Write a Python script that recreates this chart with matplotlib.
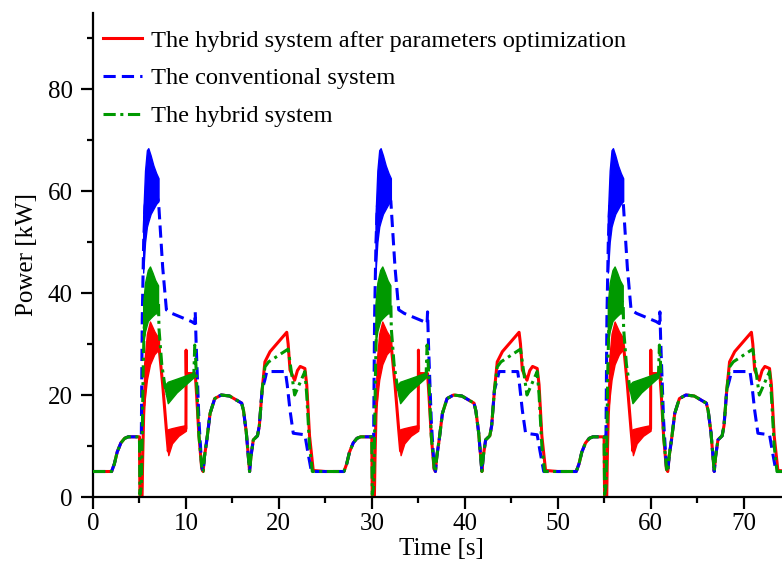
import matplotlib
matplotlib.use("Agg")
import matplotlib.pyplot as plt
from matplotlib.ticker import MultipleLocator

plt.rcParams["font.family"] = ["Liberation Serif", "DejaVu Serif"]

# ---- data (one 25 s drive cycle, repeated three times) ----
cycle_starts = [0, 25, 50]

# shared start of each cycle (all three systems coincide)
start_t = [0.0, 2.0, 2.3, 2.6, 3.0, 3.4, 3.8, 5.0]
start_p = [5.0, 5.0, 6.5, 8.8, 10.6, 11.5, 11.8, 11.8]

# shared middle part (after the first peak, before the second hump)
mid_t = [11.85, 12.0, 12.25, 12.6, 13.1, 13.8, 14.7, 16.0, 16.2, 16.5, 16.85,
         17.0, 17.25, 17.7, 17.9, 18.2]
mid_p = [5.0, 8.0, 11.2, 16.4, 19.3, 20.0, 19.8, 18.4, 16.9, 12.6, 5.0,
         8.0, 11.2, 12.0, 14.0, 21.0]

# hybrid system after parameters optimization (red)
red_a_t = [5.05, 5.28, 5.35, 5.45, 5.6, 5.8, 6.1, 6.6, 7.1, 7.5, 7.9, 8.1, 8.3,
           9.2, 10.0, 10.02, 10.05, 11.0, 11.15, 11.4, 11.7]
red_a_p = [0.0, 0.0, 8.0, 16.0, 22.0, 26.0, 30.0, 30.0, 29.5, 22.0, 13.1, 9.0,
           11.5, 12.8, 13.4, 28.8, 24.2, 24.2, 20.0, 12.0, 5.5]
red_b_t = [18.5, 19.05, 20.85, 21.0, 21.2, 21.7, 22.0, 22.3, 22.8, 23.0, 23.3,
           23.7, 25.0]
red_b_p = [26.5, 28.5, 32.3, 30.0, 24.9, 22.9, 24.8, 25.6, 25.2, 22.0, 12.0,
           5.2, 5.0]
red_blob_t = [5.5, 5.8, 6.13, 6.6, 7.1]
red_blob_lo = [18.0, 23.0, 26.0, 28.0, 29.0]
red_blob_hi = [26.0, 32.0, 34.4, 32.5, 31.0]
red_band_t = [7.9, 8.1, 8.5, 9.2, 10.0]
red_band_lo = [12.0, 8.2, 10.5, 12.0, 13.0]
red_band_hi = [13.1, 13.3, 13.5, 13.8, 14.1]

# conventional system (blue)
blue_a_t = [5.2, 5.3, 5.45, 5.6, 5.95, 6.3, 6.7, 7.05, 7.5, 7.9, 8.5, 10.6,
            10.95, 11.0, 11.1, 11.4, 11.7]
blue_a_p = [12.0, 35.0, 50.0, 57.0, 61.0, 61.0, 60.0, 58.0, 45.0, 36.7, 36.0,
            34.4, 34.0, 36.3, 30.0, 15.0, 6.0]
blue_b_t = [18.5, 18.7, 20.7, 20.9, 21.2, 21.55, 22.8, 23.1, 23.5, 25.0]
blue_b_p = [23.0, 24.6, 24.6, 22.0, 17.0, 12.5, 12.2, 9.0, 5.0, 5.0]
blue_blob_t = [5.4, 5.6, 5.8, 5.95, 6.2, 6.5, 6.8, 7.05]
blue_blob_lo = [44.0, 50.0, 53.0, 54.0, 55.5, 56.5, 57.5, 58.0]
blue_blob_hi = [55.0, 64.0, 68.0, 68.4, 67.0, 65.0, 63.5, 62.5]

# hybrid system (green)
green_a_t = [5.05, 5.2, 5.3, 5.4, 5.5, 5.9, 6.5, 7.05, 7.1, 7.4, 7.75, 8.1,
             9.0, 10.85, 10.95, 11.05, 11.4, 11.75]
green_a_p = [0.5, 2.0, 12.0, 25.0, 33.0, 39.5, 39.5, 38.0, 33.0, 26.0, 21.6,
             19.5, 20.8, 24.0, 29.8, 27.0, 12.0, 5.0]
green_b_t = [18.5, 18.9, 21.0, 21.7, 22.8, 23.0, 23.3, 23.6, 25.0]
green_b_p = [25.5, 26.5, 29.0, 20.0, 24.6, 20.0, 10.0, 5.0, 5.0]
green_blob_t = [5.4, 5.6, 5.9, 6.13, 6.4, 6.7, 7.0]
green_blob_lo = [30.0, 32.5, 34.5, 35.0, 35.5, 36.0, 36.0]
green_blob_hi = [38.0, 42.0, 44.5, 45.2, 44.0, 42.5, 41.5]
green_band_t = [7.75, 8.05, 9.0, 10.85]
green_band_lo = [21.0, 18.4, 20.5, 23.5]
green_band_hi = [22.0, 22.6, 23.2, 24.4]

RED, BLUE, GREEN = "#ff0000", "#0000ff", "#009900"


def full_series(a_t, a_p, b_t, b_p):
    t, p = [], []
    for c0 in cycle_starts:
        for seg_t, seg_p in ((start_t, start_p), (a_t, a_p), (mid_t, mid_p), (b_t, b_p)):
            t += [c0 + v for v in seg_t]
            p += list(seg_p)
    return t, p


fig = plt.figure(figsize=(7.82, 5.70), dpi=100)
ax = fig.add_axes([93 / 782, 73 / 570, 75 * 9.293 / 782, 95 * 5.1 / 570])

series = [
    (red_a_t, red_a_p, red_b_t, red_b_p, RED, None,
     [(red_blob_t, red_blob_lo, red_blob_hi), (red_band_t, red_band_lo, red_band_hi)],
     "The hybrid system after parameters optimization", 2),
    (blue_a_t, blue_a_p, blue_b_t, blue_b_p, BLUE, (4.0, 2.0),
     [(blue_blob_t, blue_blob_lo, blue_blob_hi)],
     "The conventional system", 3),
    (green_a_t, green_a_p, green_b_t, green_b_p, GREEN, (4.0, 1.5, 1.0, 1.5),
     [(green_blob_t, green_blob_lo, green_blob_hi), (green_band_t, green_band_lo, green_band_hi)],
     "The hybrid system", 4),
]

handles = []
for a_t, a_p, b_t, b_p, color, dashes, bands, label, z in series:
    t, p = full_series(a_t, a_p, b_t, b_p)
    kw = dict(color=color, lw=2.2, label=label, zorder=z)
    if dashes is not None:
        kw["dashes"] = dashes
    (ln,) = ax.plot(t, p, **kw)
    handles.append(ln)
    for bt, lo, hi in bands:
        for c0 in cycle_starts:
            ax.fill_between([c0 + v for v in bt], lo, hi, color=color, lw=1.0,
                            edgecolor=color, zorder=z)

ax.set_xlim(0, 75)
ax.set_ylim(0, 95)
ax.xaxis.set_major_locator(MultipleLocator(10))
ax.xaxis.set_minor_locator(MultipleLocator(5))
ax.yaxis.set_major_locator(MultipleLocator(20))
ax.yaxis.set_minor_locator(MultipleLocator(10))
for side in ("top", "right"):
    ax.spines[side].set_visible(False)
for side in ("left", "bottom"):
    ax.spines[side].set_linewidth(1.6)
ax.tick_params(which="major", direction="out", length=8.5, width=1.6,
               labelsize=18, pad=3)
ax.tick_params(axis="y", which="major", pad=6)
ax.tick_params(which="minor", direction="out", length=4.5, width=1.6)

ax.set_xlabel("Time [s]", fontsize=18, labelpad=2)
ax.set_ylabel("Power [kW]", fontsize=18, labelpad=7)

ax.legend(handles=handles, loc="upper left", bbox_to_anchor=(0.0, 0.985),
          frameon=False, fontsize=17.6, handlelength=1.6, handletextpad=0.36,
          labelspacing=0.64, borderaxespad=0.2, borderpad=0.2)

fig.savefig("out.png", dpi=100)
